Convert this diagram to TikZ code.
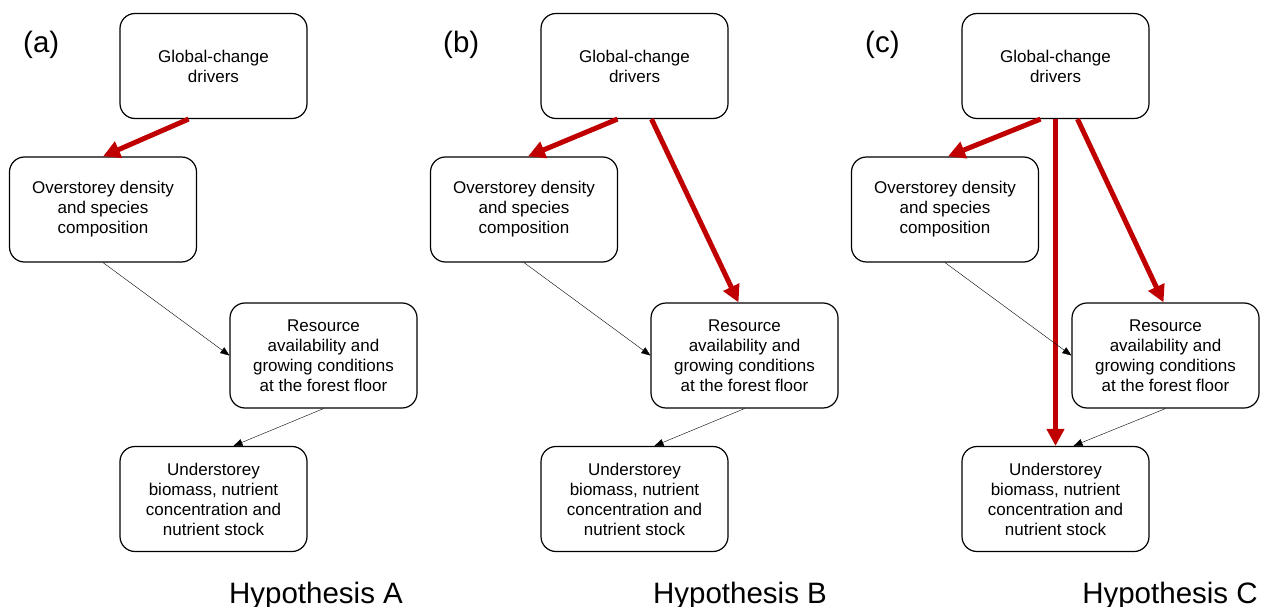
\documentclass[tikz,border=0pt]{standalone}
\usepackage{fontspec}
\setmainfont{Liberation Sans}
\usetikzlibrary{arrows.meta}
\definecolor{hypred}{RGB}{192,0,0}

\begin{document}
\begin{tikzpicture}[x=1pt, y=-1pt,
        box/.style={draw, line width=1.2pt, rounded corners=15pt, minimum width=187pt,
            minimum height=105pt, align=center, inner sep=2pt,
            font=\fontsize{17}{20}\selectfont},
        redarrow/.style={draw=hypred, line width=5pt, -{Triangle[length=17pt, width=17pt]}},
        thinarrow/.style={thin, -{Triangle[length=9pt, width=7pt]}},
        panellabel/.style={anchor=base west, inner sep=0pt, font=\fontsize{29.5}{35}\selectfont},
        hyplabel/.style={anchor=base, inner sep=0pt, font=\fontsize{29.5}{35}\selectfont}]
        \useasboundingbox (0,0) rectangle (1261,607);

        % (a)
        \node [panellabel] (la) at (23,53) {(a)};
        \node [box] (gA) at (213.5,66) {Global-change\\drivers};
        \node [box] (oA) at (103,209.5) {Overstorey density\\and species\\composition};
        \node [box] (rA) at (323.5,355.5) {Resource\\availability and\\growing conditions\\at the forest floor};
        \node [box] (uA) at (213.5,499) {Understorey\\biomass, nutrient\\concentration and\\nutrient stock};
        \node [hyplabel] (hA) at (316,603) {Hypothesis A};
        \draw [redarrow] ([xshift=-25pt]gA.south) -- (oA.north);
        \draw [thinarrow] (oA.south) -- (rA.west);
        \draw [thinarrow] (rA.south) -- ([xshift=20pt]uA.north);

        % (b)
        \begin{scope}[xshift=421pt]
            \node [panellabel] (lb) at (22,53) {(b)};
            \node [box] (gB) at (213.5,66) {Global-change\\drivers};
            \node [box] (oB) at (103,209.5) {Overstorey density\\and species\\composition};
            \node [box] (rB) at (323.5,355.5) {Resource\\availability and\\growing conditions\\at the forest floor};
            \node [box] (uB) at (213.5,499) {Understorey\\biomass, nutrient\\concentration and\\nutrient stock};
            \node [hyplabel] (hB) at (319,603) {Hypothesis B};
            \draw [redarrow] ([xshift=-17pt]gB.south) -- ([xshift=4pt]oB.north);
            \draw [redarrow] ([xshift=17pt]gB.south) -- ([xshift=-6pt]rB.north);
            \draw [thinarrow] (oB.south) -- (rB.west);
            \draw [thinarrow] (rB.south) -- ([xshift=20pt]uB.north);
        \end{scope}

        % (c)
        \begin{scope}[xshift=842pt]
            \node [panellabel] (lc) at (23,53) {(c)};
            \node [box] (gC) at (213.5,66) {Global-change\\drivers};
            \node [box] (oC) at (103,209.5) {Overstorey density\\and species\\composition};
            \node [box] (rC) at (323.5,355.5) {Resource\\availability and\\growing conditions\\at the forest floor};
            \node [box] (uC) at (213.5,499) {Understorey\\biomass, nutrient\\concentration and\\nutrient stock};
            \node [hyplabel] (hC) at (328,603) {Hypothesis C};
            \draw [redarrow] ([xshift=-15pt]gC.south) -- ([xshift=3pt]oC.north);
            \draw [redarrow] (gC.south) -- (uC.north);
            \draw [redarrow] ([xshift=22pt]gC.south) -- ([xshift=-2pt]rC.north);
            \draw [thinarrow] (oC.south) -- (rC.west);
            \draw [thinarrow] (rC.south) -- ([xshift=18pt]uC.north);
        \end{scope}
    \end{tikzpicture}
\end{document}
